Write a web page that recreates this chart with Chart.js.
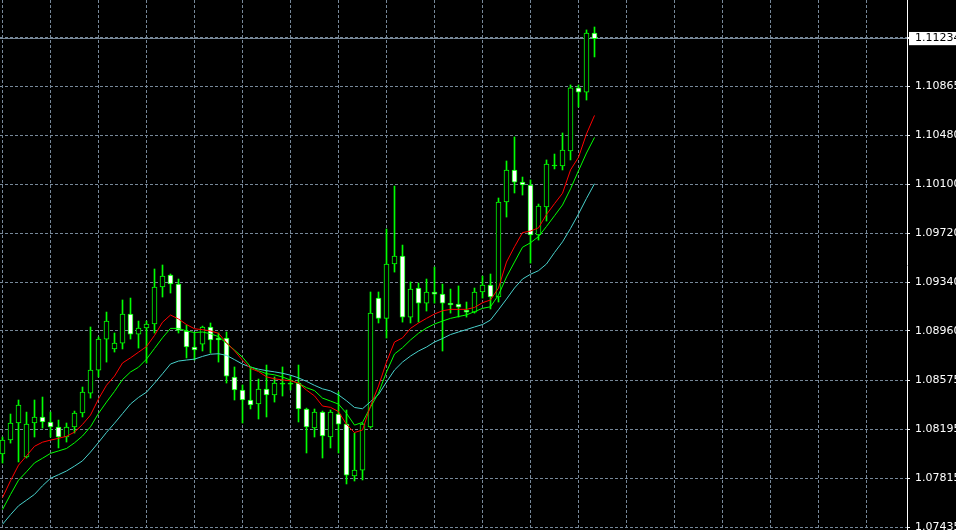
<!DOCTYPE html>
<html>
<head>
<meta charset="utf-8">
<title>EURUSD candles</title>
<script src="https://cdn.jsdelivr.net/npm/chart.js@4.4.1/dist/chart.umd.min.js"></script>
<style>
  html, body { margin: 0; padding: 0; background: #000; overflow: hidden; }
  #wrap { width: 956px; height: 530px; }
</style>
</head>
<body>
<div id="wrap"><canvas id="chart" width="956" height="530"></canvas></div>
<script>
// --- Data (oldest bar first) ---

const opens = [
	1.08003, 1.08112, 1.08244, 1.07980, 1.08244, 1.08291, 1.08252, 1.08213, 1.08135, 1.08213,
	1.08322, 1.08477, 1.08656, 1.08897, 1.08820, 1.08866, 1.09092, 1.08936, 1.08983, 1.09014,
	1.09302, 1.09395, 1.09325, 1.08960, 1.08835, 1.08858, 1.08991, 1.08905, 1.08905, 1.08602,
	1.08501, 1.08423, 1.08392, 1.08508, 1.08462, 1.08547, 1.08547, 1.08555, 1.08353, 1.08205,
	1.08329, 1.08135, 1.08314, 1.08236, 1.07832, 1.07878, 1.08213, 1.09216, 1.09058, 1.09481,
	1.09543, 1.09068, 1.09294, 1.09177, 1.09263, 1.09247, 1.09177, 1.09169, 1.09123, 1.09107,
	1.09263, 1.09317, 1.09224, 1.09963, 1.10212, 1.10118, 1.10095, 1.09706, 1.09924, 1.10243,
	1.10243, 1.10360, 1.10850, 1.10818, 1.11277,
];
const highs = [
	1.08135, 1.08314, 1.08423, 1.08329, 1.08423, 1.08446, 1.08329, 1.08267, 1.08244, 1.08337,
	1.08524, 1.08991, 1.08913, 1.09107, 1.08944, 1.09201, 1.09216, 1.09037, 1.09037, 1.09442,
	1.09473, 1.09403, 1.09364, 1.09006, 1.08944, 1.08998, 1.09022, 1.08944, 1.08952, 1.08680,
	1.08540, 1.08672, 1.08586, 1.08695, 1.08602, 1.08680, 1.08609, 1.08695, 1.08360, 1.08353,
	1.08337, 1.08345, 1.08485, 1.08345, 1.08166, 1.08244, 1.09263, 1.09263, 1.09753, 1.10087,
	1.09628, 1.09341, 1.09333, 1.09364, 1.09457, 1.09325, 1.09286, 1.09310, 1.09185, 1.09294,
	1.09387, 1.09403, 1.09994, 1.10282, 1.10469, 1.10157, 1.10134, 1.09947, 1.10290, 1.10336,
	1.10500, 1.10873, 1.10873, 1.11301, 1.11324,
];
const lows = [
	1.07933, 1.08088, 1.07941, 1.07972, 1.08135, 1.08205, 1.08135, 1.08050, 1.08096, 1.08166,
	1.08291, 1.08438, 1.08602, 1.08718, 1.08796, 1.08820, 1.08897, 1.08827, 1.08711, 1.08944,
	1.09224, 1.09255, 1.08944, 1.08750, 1.08734, 1.08804, 1.08788, 1.08718, 1.08555, 1.08423,
	1.08244, 1.08353, 1.08275, 1.08291, 1.08407, 1.08454, 1.08501, 1.08252, 1.08011, 1.08135,
	1.07972, 1.08050, 1.08011, 1.07770, 1.07793, 1.07801, 1.08205, 1.09022, 1.08905, 1.09418,
	1.09029, 1.09022, 1.09029, 1.09115, 1.09177, 1.08804, 1.09099, 1.09068, 1.09068, 1.09099,
	1.09216, 1.09131, 1.09185, 1.09846, 1.10033, 1.10017, 1.09488, 1.09667, 1.09815, 1.10220,
	1.10212, 1.10290, 1.10702, 1.10756, 1.11091,
];
const closes = [
	1.08112, 1.08244, 1.08384, 1.08236, 1.08291, 1.08252, 1.08213, 1.08135, 1.08213, 1.08322,
	1.08485, 1.08656, 1.08897, 1.09037, 1.08866, 1.09092, 1.08936, 1.08983, 1.09014, 1.09302,
	1.09387, 1.09325, 1.08967, 1.08835, 1.08812, 1.08991, 1.08890, 1.08890, 1.08609, 1.08501,
	1.08423, 1.08384, 1.08508, 1.08462, 1.08555, 1.08547, 1.08547, 1.08353, 1.08213, 1.08329,
	1.08143, 1.08329, 1.08236, 1.07839, 1.07878, 1.08236, 1.09099, 1.09058, 1.09481, 1.09543,
	1.09068, 1.09286, 1.09177, 1.09263, 1.09247, 1.09177, 1.09162, 1.09146, 1.09107, 1.09263,
	1.09317, 1.09224, 1.09963, 1.10212, 1.10118, 1.10095, 1.09706, 1.09932, 1.10258, 1.10243,
	1.10367, 1.10850, 1.10818, 1.11277, 1.11234,
];

// moving averages
const maFast = [
	1.07664, 1.07795, 1.07916, 1.07989, 1.08063, 1.08095, 1.08111, 1.08125, 1.08141, 1.08173,
	1.08233, 1.08306, 1.08431, 1.08538, 1.08609, 1.08711, 1.08751, 1.08795, 1.08839, 1.08925,
	1.09028, 1.09084, 1.09053, 1.09010, 1.08977, 1.08970, 1.08960, 1.08942, 1.08869, 1.08805,
	1.08732, 1.08669, 1.08644, 1.08603, 1.08588, 1.08579, 1.08573, 1.08555, 1.08500, 1.08455,
	1.08376, 1.08366, 1.08333, 1.08233, 1.08170, 1.08190, 1.08376, 1.08532, 1.08718, 1.08874,
	1.08906, 1.08980, 1.09022, 1.09058, 1.09092, 1.09117, 1.09128, 1.09128, 1.09128, 1.09143,
	1.09180, 1.09201, 1.09294, 1.09496, 1.09615, 1.09725, 1.09737, 1.09762, 1.09866, 1.09950,
	1.10031, 1.10212, 1.10311, 1.10493, 1.10636,
];
const maMid = [
	1.07571, 1.07688, 1.07799, 1.07865, 1.07934, 1.07970, 1.08008, 1.08027, 1.08046, 1.08090,
	1.08143, 1.08215, 1.08319, 1.08407, 1.08490, 1.08582, 1.08641, 1.08678, 1.08741, 1.08824,
	1.08907, 1.08980, 1.08980, 1.08960, 1.08948, 1.08952, 1.08938, 1.08916, 1.08864, 1.08811,
	1.08756, 1.08682, 1.08651, 1.08628, 1.08619, 1.08602, 1.08578, 1.08552, 1.08519, 1.08496,
	1.08438, 1.08415, 1.08391, 1.08319, 1.08228, 1.08249, 1.08368, 1.08477, 1.08641, 1.08781,
	1.08830, 1.08890, 1.08942, 1.08983, 1.09014, 1.09037, 1.09058, 1.09072, 1.09085, 1.09110,
	1.09136, 1.09148, 1.09240, 1.09380, 1.09496, 1.09611, 1.09646, 1.09694, 1.09773, 1.09856,
	1.09940, 1.10065, 1.10206, 1.10344, 1.10465,
];
const maSlow = [
	1.07456, 1.07531, 1.07600, 1.07644, 1.07689, 1.07756, 1.07814, 1.07842, 1.07871, 1.07909,
	1.07950, 1.08018, 1.08093, 1.08171, 1.08242, 1.08317, 1.08392, 1.08443, 1.08484, 1.08554,
	1.08627, 1.08703, 1.08726, 1.08734, 1.08741, 1.08762, 1.08779, 1.08783, 1.08770, 1.08737,
	1.08702, 1.08679, 1.08663, 1.08651, 1.08642, 1.08631, 1.08616, 1.08595, 1.08568, 1.08537,
	1.08510, 1.08494, 1.08463, 1.08417, 1.08365, 1.08355, 1.08410, 1.08466, 1.08563, 1.08656,
	1.08718, 1.08765, 1.08804, 1.08835, 1.08874, 1.08901, 1.08932, 1.08952, 1.08971, 1.08991,
	1.09010, 1.09045, 1.09125, 1.09208, 1.09294, 1.09364, 1.09401, 1.09429, 1.09481, 1.09570,
	1.09653, 1.09757, 1.09870, 1.09991, 1.10105,
];

const bidPrice = 1.11234;
// price grid; the top one sits under the bid label
const gridPrices = [1.11246, 1.10865, 1.10480, 1.10100, 1.09720, 1.09340, 1.08960, 1.08575, 1.08195, 1.07815, 1.07435];
// vertical grid every 6 bars
const gridBars = [0, 6, 12, 18, 24, 30, 36, 42, 48, 54, 60, 66, 72, 78, 84, 90, 96, 102, 108];

// --- Chart ---

const LIME = '#00ff00';
const GRID = '#778899';

const yMin = 1.07412;
const yMax = 1.11534;
const xMin = -0.3125;
const xMax = 113.0625;

Chart.defaults.font.family = "'DejaVu Sans', sans-serif";
Chart.defaults.font.size = 11;

const index = opens.map((_, i) => i);

function bodyColor(i) {
	if (closes[i] > opens[i]) return '#000';
	if (closes[i] < opens[i]) return '#fff';
	return LIME;
}

function maLine(values, color) {
	return {
		type: 'line',
		data: index.map((i) => ({ x: i, y: values[i] })),
		borderColor: color,
		borderWidth: 1,
		pointRadius: 0,
		fill: false,
		tension: 0,
		order: 0,
	};
}

const bidLine = {
	id: 'bidLine',
	beforeDatasetsDraw(chart) {
		const { ctx, chartArea, scales } = chart;
		const y = Math.floor(scales.y.getPixelForValue(bidPrice)) + 0.5;
		ctx.save();
		ctx.strokeStyle = GRID;
		ctx.lineWidth = 1;
		ctx.beginPath();
		ctx.moveTo(chartArea.left, y);
		ctx.lineTo(chartArea.right, y);
		ctx.stroke();
		ctx.restore();
	},
};

new Chart(document.getElementById('chart'), {
	type: 'bar',
	data: {
		datasets: [
			maLine(maFast, '#ff0000'),
			maLine(maMid, LIME),
			maLine(maSlow, '#48d1cc'),
			{
				// candle bodies
				data: index.map((i) => ({ x: i, y: [opens[i], closes[i]] })),
				backgroundColor: (ctx) => bodyColor(ctx.dataIndex),
				borderColor: LIME,
				borderWidth: 1,
				borderSkipped: false,
				barThickness: 5,
				minBarLength: 1,
				grouped: false,
				order: 1,
			},
			{
				// wicks
				data: index.map((i) => ({ x: i, y: [lows[i], highs[i]] })),
				backgroundColor: LIME,
				borderWidth: 0,
				barThickness: 1,
				grouped: false,
				order: 2,
			},
		],
	},
	options: {
		responsive: false,
		animation: false,
		events: [],
		layout: { padding: 0 },
		plugins: { legend: { display: false }, tooltip: { enabled: false } },
		scales: {
			x: {
				type: 'linear',
				min: xMin,
				max: xMax,
				offset: false,
				afterBuildTicks: (s) => { s.ticks = gridBars.map((v) => ({ value: v })); },
				afterFit: (s) => {
					s.height = 0;
					s.paddingLeft = 0;
					s.paddingRight = 0;
				},
				ticks: { display: false },
				grid: { color: GRID, drawTicks: false, offset: false },
				border: { display: false, dash: [3, 2] },
			},
			y: {
				position: 'right',
				min: yMin,
				max: yMax,
				afterBuildTicks: (s) => { s.ticks = [...gridPrices, bidPrice].map((v) => ({ value: v })); },
				afterFit: (s) => {
					s.width = 49;
					s.paddingTop = 0;
					s.paddingBottom = 0;
				},
				grid: {
					color: (ctx) => (ctx.tick && ctx.tick.value === bidPrice ? 'rgba(0,0,0,0)' : GRID),
					drawTicks: true,
					tickLength: 3,
					tickColor: '#fff',
					tickBorderDash: [],
				},
				border: { display: true, color: '#fff', width: 1, dash: [3, 2] },
				ticks: {
					autoSkip: false,
					padding: 5,
					color: (ctx) => (ctx.tick && ctx.tick.value === bidPrice ? '#000' : '#fff'),
					callback: (v) => (v === gridPrices[0] ? '' : v.toFixed(5)),
					showLabelBackdrop: true,
					backdropColor: (ctx) => (ctx.tick && ctx.tick.value === bidPrice ? '#fff' : 'rgba(0,0,0,0)'),
					backdropPadding: { top: 0, bottom: 0, left: 6, right: 12 },
				},
			},
		},
	},
	plugins: [bidLine],
});
</script>
</body>
</html>
